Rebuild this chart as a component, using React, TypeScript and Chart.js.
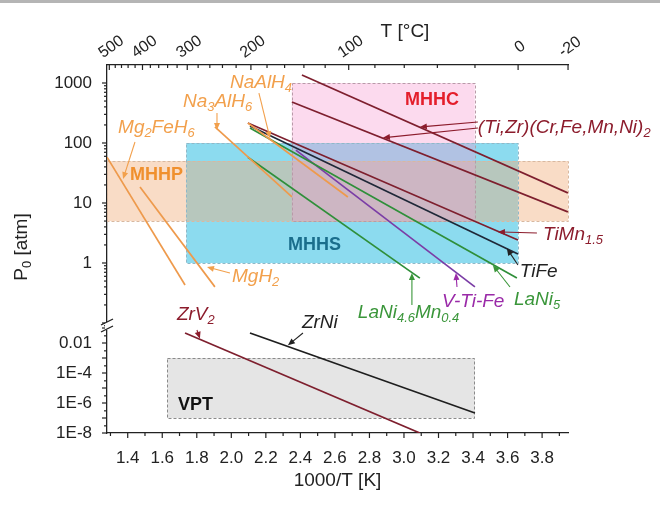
import React, { useEffect, useRef } from 'react';
import { Chart, registerables } from 'chart.js';

Chart.register(...registerables);

const FONT = '"Liberation Sans", Arial, Helvetica, sans-serif';

// ---------- axes ----------
const X_MIN = 1.28;
const X_MAX = 3.95;
const xTicks = [1.4, 1.6, 1.8, 2.0, 2.2, 2.4, 2.6, 2.8, 3.0, 3.2, 3.4, 3.6, 3.8];
const xMinorTicks = [1.3, 1.5, 1.7, 1.9, 2.1, 2.3, 2.5, 2.7, 2.9, 3.1, 3.3, 3.5, 3.7, 3.9];
const topTempTicks = [500, 400, 300, 200, 100, 0, -20];
const topTempMinor = [480, 460, 440, 420, 380, 360, 340, 320, 280, 260, 240, 220, 180, 160, 140, 120, 80, 60, 40, 20];
const yUpperTicks = [1000, 100, 10, 1];
const yLowerTicks = [0.01, 1e-4, 1e-6, 1e-8];
const yLowerLabels = ['0.01', '1E-4', '1E-6', '1E-8'];
const Y_UP_MIN = 0.0891;
const Y_UP_MAX = 1995;
const Y_LO_MIN = 1e-8;
const Y_LO_MAX = 0.136;

// ---------- van't Hoff lines (1000/T [K], P [atm]) ----------
const seriesNames = [
  'Mg2FeH6', 'MgH2', 'Na3AlH6', 'NaAlH4', '(Ti,Zr)(Cr,Fe,Mn,Ni)2 a', '(Ti,Zr)(Cr,Fe,Mn,Ni)2 b',
  'TiMn1.5', 'TiFe', 'LaNi5', 'LaNi4.6Mn0.4', 'V-Ti-Fe', 'ZrV2', 'ZrNi',
];
const invTStart = [1.28, 1.471, 1.905, 2.096, 2.409, 2.351, 2.096, 2.108, 2.108, 2.096, 2.374, 1.732, 2.108];
const invTEnd = [1.732, 1.905, 2.351, 2.675, 3.949, 3.949, 3.66, 3.66, 3.654, 3.092, 3.411, 3.092, 3.411];
const pStart = [58, 18.5, 185, 215, 1360, 482, 215, 192, 178, 58, 76, 0.046, 0.046];
const pEnd = [0.43, 0.40, 12.6, 12.6, 14.7, 7.1, 2.42, 1.41, 0.56, 0.56, 0.40, 1e-8, 2.15e-7];
const seriesAxis = ['u', 'u', 'u', 'u', 'u', 'u', 'u', 'u', 'u', 'u', 'u', 'l', 'l'];

const C_ORANGE_LINE = '#EE9A4C';
const C_MAROON_LINE = '#7E1F2E';
const C_GREEN_LINE = '#2F8F3A';
const C_PURPLE_LINE = '#7B3DA6';
const C_DARK_LINE = '#1F2838';
const seriesColors = [
  C_ORANGE_LINE, C_ORANGE_LINE, C_ORANGE_LINE, C_ORANGE_LINE, C_MAROON_LINE, C_MAROON_LINE,
  C_MAROON_LINE, C_DARK_LINE, C_GREEN_LINE, C_GREEN_LINE, C_PURPLE_LINE, C_MAROON_LINE, '#1E1E1E',
];

// ---------- shaded regions ----------
const boxNames = ['MHHS', 'MHHP', 'MHHC', 'VPT'];
const boxX0 = [1.74, 1.28, 2.35, 1.63];
const boxX1 = [3.66, 3.95, 3.41, 3.41];
const boxP0 = [1, 5, 5, 1e-7];
const boxP1 = [100, 50, 1000, 1e-3];
const boxFill = ['rgba(0,175,220,0.45)', 'rgba(240,172,118,0.42)', 'rgba(245,150,205,0.35)', 'rgba(190,190,190,0.4)'];
const boxStroke = ['#8fb8c8', '#d8b8a0', '#b89aa8', '#8a8a8a'];
const boxLabelX = [2.328, 1.413, 3.006, 1.691];
const boxLabelP = [2.0, 29.3, 521, 7.4e-7];
const boxLabelColor = ['#1A6E8C', '#F0902E', '#E41E2B', '#111111'];

// ---------- annotations ----------
const T_ORANGE = '#F2A04C';
const T_MAROON = '#8C1C2C';
const T_GREEN = '#3A963A';
const T_PURPLE = '#9A2AA8';
const T_BLACK = '#222222';

type Seg = [string, number];
const labelSegs: Seg[][] = [
  [['NaAlH', 0], ['4', 1]],
  [['Na', 0], ['3', 1], ['AlH', 0], ['6', 1]],
  [['Mg', 0], ['2', 1], ['FeH', 0], ['6', 1]],
  [['MgH', 0], ['2', 1]],
  [['(Ti,Zr)(Cr,Fe,Mn,Ni)', 0], ['2', 1]],
  [['TiMn', 0], ['1.5', 1]],
  [['TiFe', 0]],
  [['LaNi', 0], ['5', 1]],
  [['V-Ti-Fe', 0]],
  [['LaNi', 0], ['4.6', 1], ['Mn', 0], ['0.4', 1]],
  [['ZrV', 0], ['2', 1]],
  [['ZrNi', 0]],
];
const labelX = [1.992, 1.720, 1.344, 2.004, 3.428, 3.805, 3.671, 3.637, 3.220, 2.733, 1.685, 2.409];
const labelP = [1000, 482, 178, 0.585, 178, 2.93, 0.708, 0.242, 0.224, 0.147, 0.136, 0.1];
const labelColor = [T_ORANGE, T_ORANGE, T_ORANGE, T_ORANGE, T_MAROON, T_MAROON, T_BLACK, T_GREEN, T_PURPLE, T_GREEN, T_MAROON, T_BLACK];

const arrowX0 = [2.160, 1.917, 1.442, 1.992, 3.428, 3.428, 3.770, 3.660, 3.614, 3.307, 3.046, 1.801, 2.415];
const arrowP0 = [681, 316, 104, 0.68, 224, 178, 3.16, 0.926, 0.398, 0.398, 0.2, 0.074, 0.0464];
const arrowX1 = [2.224, 1.917, 1.373, 1.859, 3.092, 2.878, 3.544, 3.596, 3.515, 3.301, 3.046, 1.818, 2.328];
const arrowP1 = [120, 165, 25, 0.857, 185, 122, 3.3, 1.75, 0.92, 0.68, 0.68, 0.019, 0.007];
const arrowColor = [T_ORANGE, T_ORANGE, T_ORANGE, T_ORANGE, T_MAROON, T_MAROON, T_MAROON, T_BLACK, T_GREEN, T_PURPLE, T_GREEN, T_MAROON, T_BLACK];

const AXIS = '#222222';

function yPix(chart: any, p: number) {
  return p >= Y_UP_MIN ? chart.scales.y.getPixelForValue(p) : chart.scales.y2.getPixelForValue(p);
}

function drawRich(ctx: CanvasRenderingContext2D, segs: Seg[], x: number, y: number, size: number, color: string, style: string, align: 'left' | 'center') {
  const sub = size * 0.68;
  let w = 0;
  for (const [t, s] of segs) {
    ctx.font = `${style} ${s ? sub : size}px ${FONT}`;
    w += ctx.measureText(t).width;
  }
  let cx = align === 'center' ? x - w / 2 : x;
  ctx.fillStyle = color;
  ctx.textBaseline = 'middle';
  ctx.textAlign = 'left';
  for (const [t, s] of segs) {
    ctx.font = `${style} ${s ? sub : size}px ${FONT}`;
    ctx.fillText(t, cx, s ? y + size * 0.3 : y);
    cx += ctx.measureText(t).width;
  }
}

function arrow(ctx: CanvasRenderingContext2D, x0: number, y0: number, x1: number, y1: number, color: string) {
  const a = Math.atan2(y1 - y0, x1 - x0);
  const L = 7;
  const H = 3;
  ctx.strokeStyle = color;
  ctx.fillStyle = color;
  ctx.lineWidth = 1.1;
  ctx.setLineDash([]);
  ctx.beginPath();
  ctx.moveTo(x0, y0);
  ctx.lineTo(x1 - Math.cos(a) * L * 0.6, y1 - Math.sin(a) * L * 0.6);
  ctx.stroke();
  ctx.beginPath();
  ctx.moveTo(x1, y1);
  ctx.lineTo(x1 - Math.cos(a) * L + Math.sin(a) * H, y1 - Math.sin(a) * L - Math.cos(a) * H);
  ctx.lineTo(x1 - Math.cos(a) * L - Math.sin(a) * H, y1 - Math.sin(a) * L + Math.cos(a) * H);
  ctx.closePath();
  ctx.fill();
}

const decor = {
  id: 'decor',
  beforeDatasetsDraw(chart: any) {
    const ctx: CanvasRenderingContext2D = chart.ctx;
    const sx = chart.scales.x;
    ctx.save();
    boxNames.forEach((_, i) => {
      const xa = sx.getPixelForValue(boxX0[i]);
      const xb = sx.getPixelForValue(boxX1[i]);
      const ya = yPix(chart, boxP1[i]);
      const yb = yPix(chart, boxP0[i]);
      ctx.fillStyle = boxFill[i];
      ctx.fillRect(xa, ya, xb - xa, yb - ya);
    });
    boxNames.forEach((_, i) => {
      const xa = sx.getPixelForValue(boxX0[i]);
      const xb = sx.getPixelForValue(boxX1[i]);
      const ya = yPix(chart, boxP1[i]);
      const yb = yPix(chart, boxP0[i]);
      ctx.strokeStyle = boxStroke[i];
      ctx.lineWidth = 1;
      ctx.setLineDash([3, 2]);
      ctx.strokeRect(Math.round(xa) + 0.5, Math.round(ya) + 0.5, Math.round(xb - xa), Math.round(yb - ya));
    });
    ctx.setLineDash([]);
    boxNames.forEach((name, i) => {
      drawRich(ctx, [[name, 0]], sx.getPixelForValue(boxLabelX[i]), yPix(chart, boxLabelP[i]), 18, boxLabelColor[i], 'bold', 'left');
    });
    ctx.restore();
  },
  afterDraw(chart: any) {
    const ctx: CanvasRenderingContext2D = chart.ctx;
    const sx = chart.scales.x;
    const area = chart.chartArea;
    ctx.save();
    // arrows and labels
    arrowX0.forEach((_, i) => {
      arrow(ctx, sx.getPixelForValue(arrowX0[i]), yPix(chart, arrowP0[i]), sx.getPixelForValue(arrowX1[i]), yPix(chart, arrowP1[i]), arrowColor[i]);
    });
    labelSegs.forEach((segs, i) => {
      drawRich(ctx, segs, sx.getPixelForValue(labelX[i]), yPix(chart, labelP[i]), 19, labelColor[i], 'italic', 'left');
    });

    // tick marks
    ctx.strokeStyle = AXIS;
    ctx.lineWidth = 1.2;
    ctx.setLineDash([]);
    const tick = (x0: number, y0: number, x1: number, y1: number) => {
      ctx.beginPath();
      ctx.moveTo(x0, y0);
      ctx.lineTo(x1, y1);
      ctx.stroke();
    };
    const b = area.bottom;
    xTicks.forEach((v) => { const x = sx.getPixelForValue(v); tick(x, b, x, b + 5); });
    xMinorTicks.forEach((v) => { const x = sx.getPixelForValue(v); tick(x, b, x, b + 3); });
    const t = area.top;
    topTempTicks.forEach((T) => { const x = sx.getPixelForValue(1000 / (T + 273.15)); tick(x, t, x, t + 5); });
    topTempMinor.forEach((T) => { const x = sx.getPixelForValue(1000 / (T + 273.15)); tick(x, t, x, t + 3); });
    const l = area.left;
    const yu = chart.scales.y;
    for (let e = -2; e <= 3; e++) {
      for (let k = 1; k <= 9; k++) {
        const p = k * Math.pow(10, e);
        if (p < Y_UP_MIN || p > Y_UP_MAX) continue;
        const y = yu.getPixelForValue(p);
        tick(l - (k === 1 ? 5 : 3), y, l, y);
      }
    }
    const yl = chart.scales.y2;
    for (let e = -8; e <= -1; e++) {
      const p1 = Math.pow(10, e);
      if (p1 >= Y_LO_MIN && p1 <= Y_LO_MAX) { const y = yl.getPixelForValue(p1); tick(l - 5, y, l, y); }
      const p3 = 3 * Math.pow(10, e);
      if (p3 >= Y_LO_MIN && p3 <= Y_LO_MAX) { const y = yl.getPixelForValue(p3); tick(l - 3, y, l, y); }
    }

    // top temperature labels
    topTempTicks.forEach((T) => {
      const x = sx.getPixelForValue(1000 / (T + 273.15));
      ctx.save();
      ctx.translate(x + 2, 47);
      ctx.rotate(-35 * Math.PI / 180);
      ctx.font = `16px ${FONT}`;
      ctx.fillStyle = AXIS;
      ctx.textAlign = 'center';
      ctx.textBaseline = 'middle';
      ctx.fillText(String(T), 0, 0);
      ctx.restore();
    });
    ctx.font = `19px ${FONT}`;
    ctx.fillStyle = AXIS;
    ctx.textAlign = 'center';
    ctx.textBaseline = 'middle';
    ctx.fillText('T [\u00B0C]', 405, 32);

    // y title
    ctx.save();
    ctx.translate(22, 247);
    ctx.rotate(-Math.PI / 2);
    drawRich(ctx, [['P', 0], ['0', 1], [' [atm]', 0]], 0, 0, 19, AXIS, 'normal', 'center');
    ctx.restore();

    // axis break
    const yb = chart.scales.y.bottom;
    ctx.fillStyle = '#ffffff';
    ctx.fillRect(l - 2, yb - 4, 4, 8);
    ctx.strokeStyle = AXIS;
    ctx.lineWidth = 1.3;
    tick(l - 6, yb - 1, l + 6, yb - 7);
    tick(l - 6, yb + 6, l + 6, yb);

    // gray strip at the very top
    ctx.fillStyle = '#b5b5b5';
    ctx.fillRect(0, 0, chart.width, 3);
    ctx.restore();
  },
};

export default function App() {
  const ref = useRef<HTMLCanvasElement>(null);
  useEffect(() => {
    const datasets = seriesNames.map((name, i) => ({
      label: name,
      data: [{ x: invTStart[i], y: pStart[i] }, { x: invTEnd[i], y: pEnd[i] }],
      borderColor: seriesColors[i],
      backgroundColor: seriesColors[i],
      borderWidth: 1.7,
      pointRadius: 0,
      fill: false,
      tension: 0,
      xAxisID: 'x',
      yAxisID: seriesAxis[i] === 'l' ? 'y2' : 'y',
    }));
    const tickFont = { family: FONT, size: 17 };
    const chart = new Chart(ref.current as HTMLCanvasElement, {
      type: 'line',
      data: { datasets },
      plugins: [decor],
      options: {
        animation: false,
        responsive: false,
        devicePixelRatio: 1,
        layout: { padding: { left: 0, right: 92, top: 0, bottom: 0 } },
        plugins: { legend: { display: false }, tooltip: { enabled: false } },
        scales: {
          x: {
            type: 'linear', position: 'bottom', min: X_MIN, max: X_MAX,
            grid: { display: false, drawTicks: false },
            border: { display: true, color: AXIS, width: 1.3 },
            afterBuildTicks: (s: any) => { s.ticks = xTicks.map((v) => ({ value: v })); },
            ticks: { callback: (v: any) => Number(v).toFixed(1), font: tickFont, color: AXIS, padding: 15, autoSkip: false, maxRotation: 0, minRotation: 0 },
            title: { display: true, text: '1000/T [K]', font: { family: FONT, size: 19 }, color: AXIS, padding: { top: 0, bottom: 15 } },
            afterFit: (s: any) => { s.height = 74; },
          },
          x2: {
            type: 'linear', position: 'top', min: X_MIN, max: X_MAX,
            grid: { display: false, drawTicks: false },
            border: { display: true, color: AXIS, width: 1.3 },
            ticks: { display: false },
            afterFit: (s: any) => { s.height = 65; },
          },
          y2: {
            type: 'logarithmic', position: 'left', stack: 'p', stackWeight: 107, min: Y_LO_MIN, max: Y_LO_MAX, bounds: 'data',
            grid: { display: false, drawTicks: false },
            border: { display: true, color: AXIS, width: 1.3 },
            afterBuildTicks: (s: any) => { s.ticks = yLowerTicks.map((v) => ({ value: v })); },
            ticks: { callback: (_v: any, i: number) => yLowerLabels[i], font: tickFont, color: AXIS, padding: 15, autoSkip: false },
            afterFit: (s: any) => { s.width = 107; },
          },
          y: {
            type: 'logarithmic', position: 'left', stack: 'p', stackWeight: 261, min: Y_UP_MIN, max: Y_UP_MAX, bounds: 'data',
            grid: { display: false, drawTicks: false },
            border: { display: true, color: AXIS, width: 1.3 },
            afterBuildTicks: (s: any) => { s.ticks = yUpperTicks.map((v) => ({ value: v })); },
            ticks: { callback: (v: any) => String(v), font: tickFont, color: AXIS, padding: 15, autoSkip: false },
            afterFit: (s: any) => { s.width = 107; },
          },
        },
      } as any,
    });
    return () => chart.destroy();
  }, []);
  return (
    <div style={{ position: 'fixed', left: 0, top: 0, width: 660, height: 507, background: '#ffffff' }}>
      <canvas ref={ref} width={660} height={507} style={{ display: 'block', width: 660, height: 507 }} />
    </div>
  );
}
